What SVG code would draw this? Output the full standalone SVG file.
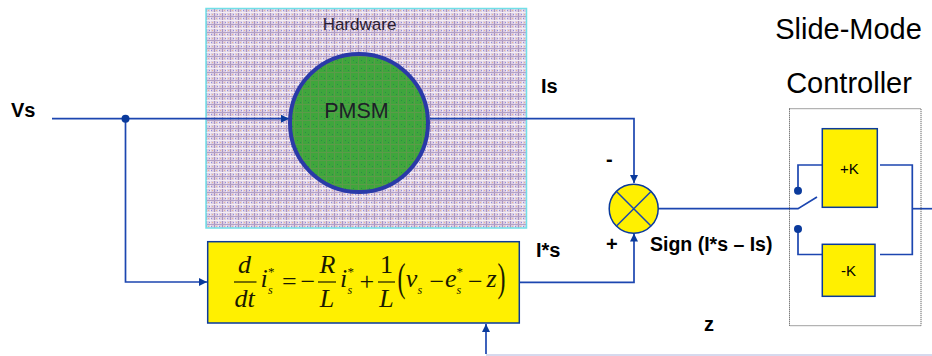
<svg xmlns="http://www.w3.org/2000/svg" width="932" height="356" viewBox="0 0 932 356">
<style>
.l{font-family:"Liberation Sans",Arial,sans-serif;fill:#000}
.b{font-weight:bold;font-size:20px}
.t{font-size:29px}
.m{font-family:"Liberation Serif","Times New Roman",serif;fill:#1a1a00;font-size:26px}
.i{font-style:italic}
.s{font-family:"Liberation Serif","Times New Roman",serif;fill:#1a1a00;font-size:12px;font-style:italic}
.a{font-family:"Liberation Serif","Times New Roman",serif;fill:#1a1a00;font-size:13px}
.p{font-family:"Liberation Serif","Times New Roman",serif;fill:#1a1a00;font-size:40px;font-weight:normal}
.w{fill:none;stroke:#1c46b0;stroke-width:1.700}
.y{fill:#fff000;stroke:#0a3a9c;stroke-width:1.500}
.f{fill:none;stroke:#1a1a00;stroke-width:1.200}
</style>
<defs>
<pattern id="hw" width="8" height="8" patternUnits="userSpaceOnUse" x="206" y="9">
<rect width="8" height="8" fill="#dccde2"/>
<rect x="0" y="0" width="1" height="8" fill="#a994c0"/>
<rect x="4" y="0" width="1" height="8" fill="#efe6f0"/>
<rect x="0" y="3" width="8" height="1" fill="#f4eef4"/>
<rect x="0" y="7" width="8" height="1" fill="#b3a0c6"/>
<rect x="2" y="1" width="1" height="1" fill="#e8b890"/>
<rect x="5" y="1" width="1" height="1" fill="#8c8ce0"/>
<rect x="3" y="5" width="1" height="1" fill="#8c8ce0"/>
<rect x="6" y="5" width="1" height="1" fill="#e8b890"/>
</pattern>
<pattern id="gr" width="8" height="8" patternUnits="userSpaceOnUse" x="206" y="9">
<rect width="8" height="8" fill="#3fa63c"/>
<rect x="0" y="0" width="1" height="8" fill="#5c9a4a"/>
<rect x="0" y="7" width="8" height="1" fill="#5c9a4a"/>
<rect x="3" y="3" width="1" height="1" fill="#2a8a48"/>
<rect x="6" y="5" width="1" height="1" fill="#2a8a48"/>
</pattern>
<marker id="a" markerUnits="userSpaceOnUse" markerWidth="9" markerHeight="9" refX="8" refY="4" orient="auto"><path d="M0 0L8 4L0 8Z" fill="#0a3a9c"/></marker>
</defs>

<g id="hardware">
<rect x="206" y="8.500" width="320.500" height="219.500" fill="url(#hw)" stroke="#70e0e8" stroke-width="1.500"/>
<text class="l" x="359.500" y="30" text-anchor="middle" style="fill:#2a2030;font-size:17px">Hardware</text>
</g>

<g id="connectors">
<path class="w" d="M52 118.700H289" marker-end="url(#a)"/>
<path class="w" d="M125.500 118.700V282H207" marker-end="url(#a)"/>
<path class="w" d="M430 118.700H634V183" marker-end="url(#a)"/>
<path class="w" d="M520 282.300H634V233.500" marker-end="url(#a)"/>
<path class="w" d="M658 208.700H798L817 197"/>
<path class="w" d="M798 190V165H830"/>
<path class="w" d="M798 229V254.500H830"/>
<path class="w" d="M880 165H912.300V254.500H880"/>
<path class="w" d="M912.300 208.700H932"/>
<path class="w" d="M486 354V324" marker-end="url(#a)"/>
<path d="M486 355H932" fill="none" stroke="#c8cce8" stroke-width="1.500"/>
<circle cx="125.500" cy="118.700" r="4" fill="#0a3a9c"/>
<circle cx="798" cy="190.700" r="4" fill="#0a3a9c"/>
<circle cx="798" cy="229" r="4" fill="#0a3a9c"/>
</g>

<g id="pmsm">
<circle cx="359" cy="123" r="69" fill="url(#gr)" stroke="#2a3aa8" stroke-width="4"/>
<text class="l" x="356.500" y="118" text-anchor="middle" style="fill:#1c2028;font-size:21.500px">PMSM</text>
</g>

<g id="model">
<rect class="y" x="207.700" y="241.700" width="311.600" height="81.300"/>
<text class="m i" x="244.500" y="273" text-anchor="middle">d</text>
<path class="f" d="M234 282H256.500"/>
<text class="m i" x="244.500" y="306.500" text-anchor="middle">dt</text>
<text class="m i" x="260.500" y="287">i</text><text class="s" x="268" y="294">s</text>
<text class="a" x="268" y="276">*</text>
<text class="m" x="282" y="290">=</text>
<text class="m" x="300.500" y="290">−</text>
<text class="m i" x="327.500" y="273" text-anchor="middle">R</text>
<path class="f" d="M318 282H336"/>
<text class="m i" x="327" y="306.500" text-anchor="middle">L</text>
<text class="m i" x="340" y="287">i</text><text class="s" x="347.500" y="294">s</text>
<text class="a" x="347.500" y="276">*</text>
<text class="m" x="359.500" y="290">+</text>
<text class="m" x="386.500" y="273" text-anchor="middle">1</text>
<path class="f" d="M378 282H395"/>
<text class="m i" x="386.500" y="306.500" text-anchor="middle">L</text>
<text class="p" x="0" y="0" transform="translate(397.500 291) scale(0.6 1)">(</text>
<text class="m i" x="405.800" y="287">v</text><text class="s" x="417.500" y="294">s</text>
<text class="m" x="429.500" y="290">−</text>
<text class="m i" x="445" y="287">e</text><text class="s" x="456.500" y="294">s</text>
<text class="a" x="456.500" y="276">*</text>
<text class="m" x="468" y="290">−</text>
<text class="m i" x="486.500" y="287">z</text>
<text class="p" x="0" y="0" transform="translate(497.500 291) scale(0.6 1)">)</text>
</g>

<g id="summer">
<circle cx="633.700" cy="208.700" r="24.500" fill="#fff000" stroke="#0a3a9c" stroke-width="1.500"/>
<path d="M616.500 191.500L651 226M651 191.500L616.500 226" fill="none" stroke="#1c46b0" stroke-width="1.500"/>
</g>

<g id="plus-k">
<rect class="y" x="822.300" y="128.700" width="55" height="78.600"/>
<text class="l" x="849.500" y="174" font-size="15" text-anchor="middle">+K</text>
</g>
<g id="minus-k">
<rect class="y" x="822.300" y="244.300" width="52.700" height="52"/>
<text class="l" x="848.500" y="276" font-size="15" text-anchor="middle">-K</text>
</g>
<g id="controller">
<rect x="789.500" y="108.700" width="131.500" height="217" fill="none" stroke="#444" stroke-width="1" stroke-dasharray="1 1"/>
<text class="l t" x="848.500" y="39" text-anchor="middle">Slide-Mode</text>
<text class="l t" x="849" y="93" text-anchor="middle">Controller</text>
</g>
<g id="labels">
<text class="l b" x="11" y="117">Vs</text>
<text class="l b" x="541" y="93">Is</text>
<text class="l b" x="536" y="257">I*s</text>
<text class="l b" x="606" y="166">-</text>
<text class="l b" x="606" y="251">+</text>
<text class="l b" x="650" y="251" style="font-size:19.500px">Sign (I*s – Is)</text>
<text class="l b" x="704" y="331">z</text>
</g>
</svg>
